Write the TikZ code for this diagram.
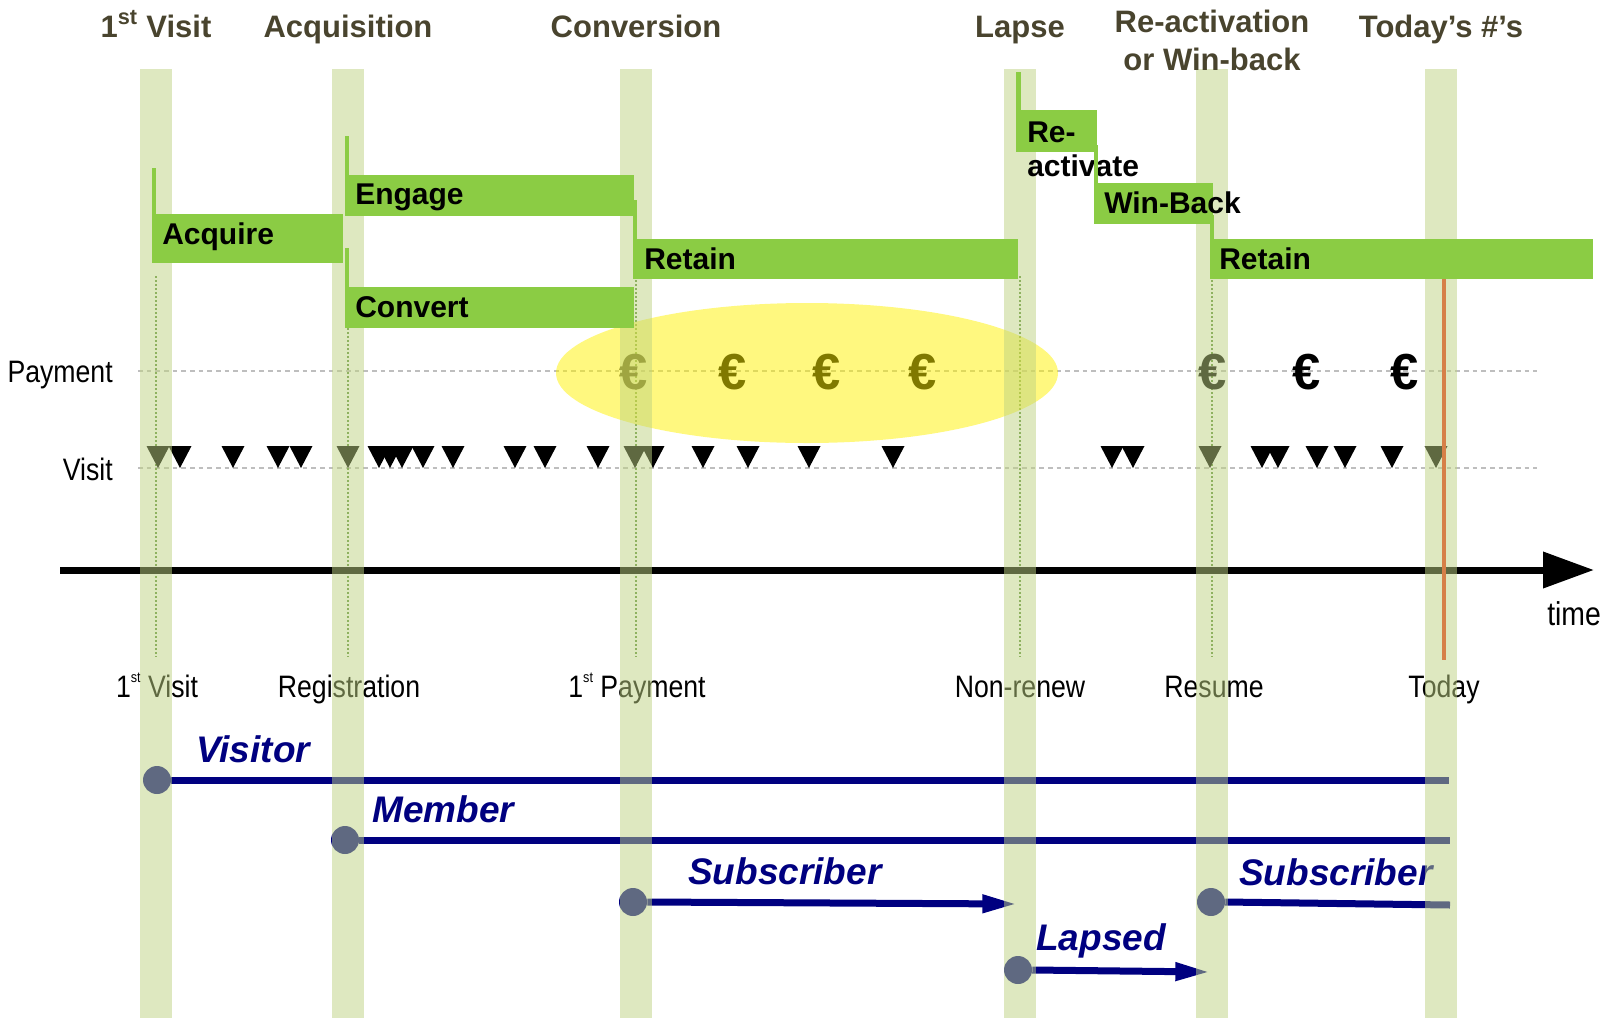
\documentclass[tikz,border=0pt]{standalone}
\usepackage{fontspec}
\setmainfont{Liberation Sans}
\newfontfamily\narrowfont[FakeStretch=0.86]{Liberation Sans}
\usetikzlibrary{arrows.meta}
\definecolor{titlecol}{RGB}{73,68,46}
\definecolor{barcol}{RGB}{139,204,68}
\definecolor{bandcol}{RGB}{190,210,130}
\definecolor{navycol}{RGB}{0,0,128}
\definecolor{orangecol}{RGB}{214,128,72}
\definecolor{dotgreen}{RGB}{95,145,60}
\definecolor{gridgray}{RGB}{190,190,190}
\newcommand\tinyst{\raisebox{0.48em}{\fontsize{11}{11}\selectfont st}}
\begin{document}
\begin{tikzpicture}[x=0.75pt,y=-0.75pt,
  title/.style={font=\fontsize{23.25}{28}\selectfont\bfseries, text=titlecol, anchor=base, inner sep=0pt},
  bartext/.style={font=\fontsize{22.5}{26}\selectfont\bfseries, anchor=base west, inner sep=0pt},
  lbl/.style={font=\narrowfont\fontsize{23.25}{28}\selectfont, anchor=base, inner sep=0pt},
  rowlbl/.style={lbl, anchor=base east},
  statelbl/.style={font=\fontsize{27.75}{32}\selectfont\bfseries\itshape, text=navycol, anchor=base west, inner sep=0pt},
  euro/.style={font=\fontsize{38}{42}\selectfont\bfseries, inner sep=0pt},
  sdot/.style={circle, fill=navycol, minimum size=21pt, inner sep=0pt},
  sline/.style={navycol, line width=5.25pt},
  sarrow/.style={sline, -{Triangle[length=26pt,width=12.75pt]}},
  band/.style={fill=bandcol, fill opacity=0.5},
  barfill/.style={fill=barcol},
  vdots/.style={dotgreen, line width=1.8pt, dash pattern=on 1.5pt off 1.5pt},
  hdash/.style={gridgray, line width=1.1pt, dash pattern=on 3.5pt off 3pt},
]
\useasboundingbox (0,0) rectangle (1614,1018);

% horizontal guide lines
\coordinate (pay0) at (138,371); \coordinate (pay1) at (1537,371);
\coordinate (vis0) at (138,468); \coordinate (vis1) at (1537,468);
\draw[hdash] (pay0) -- (pay1);
\draw[hdash] (vis0) -- (vis1);

% vertical dotted lines in bands
\foreach \x in {156,348,636,1020,1212}
  \draw[vdots] (\x,276) -- (\x,657);

% time axis
\coordinate (t0) at (60,570); \coordinate (t1) at (1594,570);
\draw[line width=5.25pt, -{Triangle[length=38.25pt,width=26.25pt]}] (t0) -- (t1);
\node[lbl, anchor=base west, font=\narrowfont\fontsize{24.75}{28}\selectfont] (timelbl) at (1547,625) {time};

% row labels
\node[rowlbl] (paylbl) at (113,382) {Payment};
\node[rowlbl] (vislbl) at (113,480) {Visit};

% visits
\foreach \x in {158,180,233,278,301,348,379,390,402,423,453,515,545,598,635,653,703,748,809,893,1112,1133,1210,1262,1278,1317,1345,1392,1436}
  \fill (\x-11.5,446) -- (\x+11.5,446) -- (\x,468) -- cycle;

% payments
\foreach \x/\n in {634/1,733/2,827/3,923/4,1213/5,1307/6,1405/7}
  \node[euro] (eur\n) at (\x,372) {€};

% bottom milestone labels
\node[lbl] (m1) at (157,697) {1\tinyst\ Visit};
\node[lbl] (m2) at (349,697) {Registration};
\node[lbl] (m3) at (637,697) {1\tinyst\ Payment};
\node[lbl] (m4) at (1020,697) {Non-renew};
\node[lbl] (m5) at (1214,697) {Resume};
\node[lbl] (m6) at (1444,697) {Today};

% status lines
\node[sdot] (visitor) at (157,780) {};
\coordinate (visitorEnd) at (1449,780);
\draw[sline] (visitor.east) -- (visitorEnd);
\node[statelbl] (visitorlbl) at (196,762) {Visitor};

\node[sdot] (member) at (345,840) {};
\coordinate (memberEnd) at (1450,840);
\draw[sline] (member.east) -- (memberEnd);
\node[statelbl] (memberlbl) at (372,822) {Member};

\node[sdot] (sub1) at (633,902) {};
\coordinate (sub1End) at (1017,904);
\draw[sarrow] (sub1.east) -- (sub1End);
\node[statelbl] (sub1lbl) at (688,884) {Subscriber};

\node[sdot] (lapsed) at (1018,970) {};
\coordinate (lapsedEnd) at (1210,972);
\draw[sarrow] (lapsed.east) -- (lapsedEnd);
\node[statelbl] (lapsedlbl) at (1036,950) {Lapsed};

\node[sdot] (sub2) at (1211,902) {};
\coordinate (sub2End) at (1450,905);
\draw[sline] (sub2.east) -- (sub2End);
\node[statelbl] (sub2lbl) at (1239,885) {Subscriber};

% yellow highlight
\fill[yellow, fill opacity=0.5] (807,373) ellipse [x radius=251, y radius=70];

% bands
\foreach \x in {140,332,620,1004,1196,1425}
  \fill[band] (\x,69) rectangle (\x+32,1018);

% today marker
\draw[orangecol, line width=2.4pt] (1444,279) -- (1444,660);

% phase bars
\fill[barfill] (152,168) rectangle (156,214);
\fill[barfill] (152,214) rectangle (343,263);
\node[bartext] (acquire) at (162,244) {Acquire};

\fill[barfill] (345,136) rectangle (349,175);
\fill[barfill] (345,175) rectangle (634,216);
\node[bartext] (engage) at (355,204) {Engage};

\fill[barfill] (345,248) rectangle (349,287);
\fill[barfill] (345,287) rectangle (634,328);
\node[bartext] (convert) at (355,317) {Convert};

\fill[barfill] (633,200) rectangle (637,239);
\fill[barfill] (633,239) rectangle (1018,279);
\node[bartext] (retain1) at (644,269) {Retain};

\fill[barfill] (1016,72) rectangle (1021,110);
\fill[barfill] (1016,110) rectangle (1097,152);
\node[bartext] (react1) at (1027,142) {Re-};
\node[bartext] (react2) at (1027,176) {activate};

\fill[barfill] (1094,145) rectangle (1098,183);
\fill[barfill] (1094,183) rectangle (1213,224);
\node[bartext] (winback) at (1104,213) {Win-Back};

\fill[barfill] (1210,215) rectangle (1214,239);
\fill[barfill] (1210,239) rectangle (1593,279);
\node[bartext] (retain2) at (1219,269) {Retain};

% titles
\node[title] (h1) at (156,37) {1\textsuperscript{st} Visit};
\node[title] (h2) at (348,37) {Acquisition};
\node[title] (h3) at (636,37) {Conversion};
\node[title] (h4) at (1020,37) {Lapse};
\node[title] (h5a) at (1212,32) {Re-activation};
\node[title] (h5b) at (1212,70) {or Win-back};
\node[title] (h6) at (1441,37) {Today’s \#’s};
\end{tikzpicture}
\end{document}
